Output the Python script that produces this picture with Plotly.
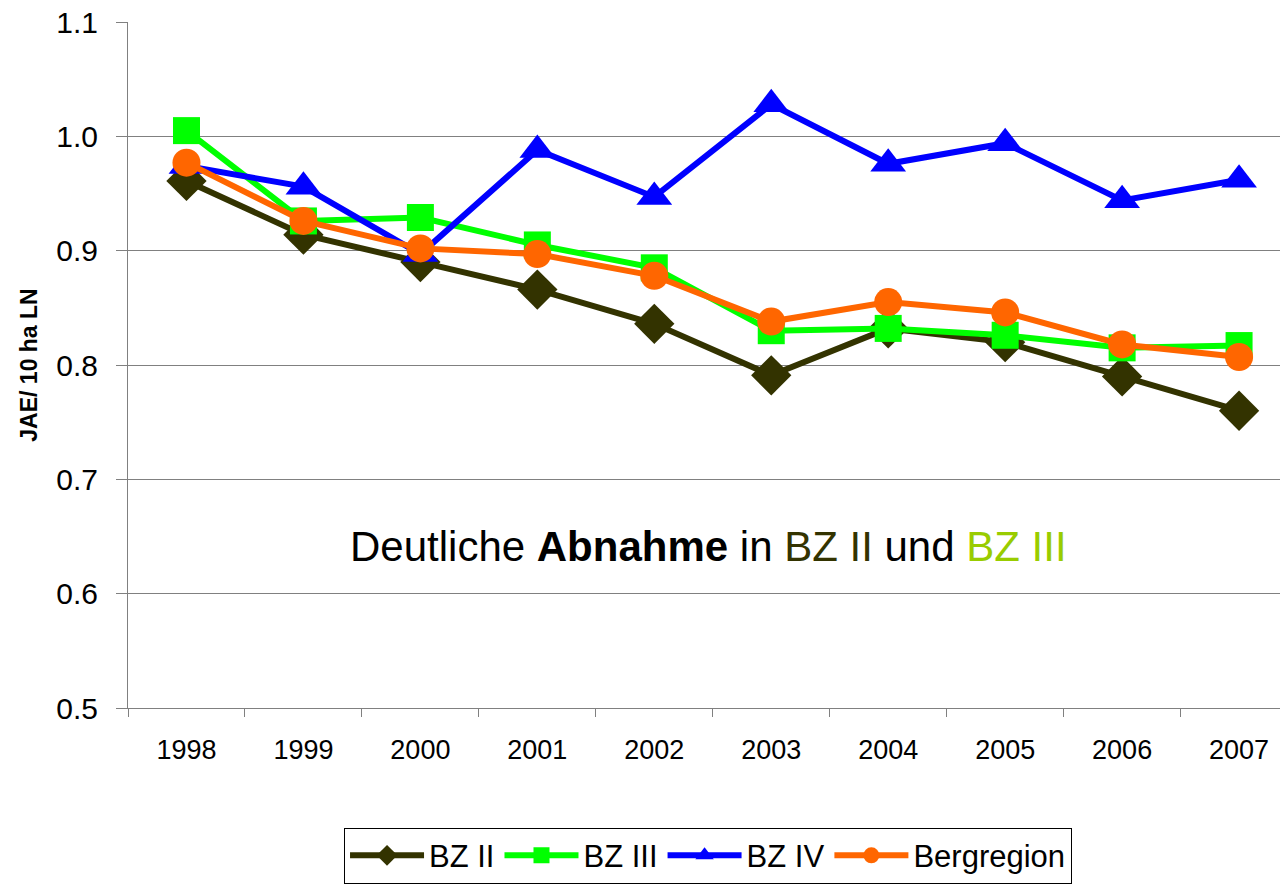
import plotly.graph_objects as go

years = ["1998", "1999", "2000", "2001", "2002", "2003", "2004", "2005", "2006", "2007"]
bz2 = [0.961, 0.914, 0.890, 0.866, 0.836, 0.791, 0.832, 0.820, 0.790, 0.760]
bz3 = [1.005, 0.926, 0.929, 0.905, 0.885, 0.830, 0.832, 0.826, 0.815, 0.817]
bz4 = [0.974, 0.956, 0.897, 0.988, 0.947, 1.028, 0.976, 0.994, 0.944, 0.962]
berg = [0.977, 0.926, 0.902, 0.897, 0.878, 0.838, 0.855, 0.846, 0.818, 0.807]
y_ticks = [0.5, 0.6, 0.7, 0.8, 0.9, 1.0, 1.1]
y_ticktext = ["0.5", "0.6", "0.7", "0.8", "0.9", "1.0", "1.1"]

series_names = ["BZ II", "BZ III", "BZ IV", "Bergregion"]
series_vals = [bz2, bz3, bz4, berg]
colors = ["#333300", "#00FF00", "#0000FF", "#FF6600"]
symbols = ["diamond", "square", "triangle-up", "circle"]
sizes = [31, 27, 31, 28]

FONT = "Liberation Sans, Arial, sans-serif"

fig = go.Figure()
for name, vals, c, s, sz in zip(series_names, series_vals, colors, symbols, sizes):
    fig.add_trace(go.Scatter(
        x=years, y=vals, name=name, mode="lines+markers",
        line=dict(color=c, width=6),
        marker=dict(symbol=s, size=sz, color=c, line=dict(width=0)),
    ))

fig.add_annotation(
    x=0.5035, xref="paper", y=0.641, yref="y",
    text="Deutliche <b>Abnahme</b> in <span style='color:#333300'>BZ II</span> und "
         "<span style='color:#99CC00'>BZ III</span>",
    showarrow=False, font=dict(family=FONT, size=42, color="#000000"),
    xanchor="center", yanchor="middle",
)

fig.update_layout(
    width=1280, height=884,
    margin=dict(l=128, r=0, t=22, b=174),
    paper_bgcolor="white", plot_bgcolor="white",
    font=dict(family=FONT, color="#000000"),
    showlegend=True,
    legend=dict(
        orientation="h", x=0.5035, xanchor="center", y=-0.1744, yanchor="top",
        font=dict(family=FONT, size=31, color="#000000"),
        bordercolor="#000000", borderwidth=1, bgcolor="white",
        itemwidth=74, tracegroupgap=0,
    ),
    xaxis=dict(
        type="category", categoryorder="array", categoryarray=years,
        range=[-0.5, 9.35],
        showline=True, linecolor="#808080", linewidth=1,
        ticks="outside", ticklen=8, tickcolor="#808080", tickson="boundaries",
        showgrid=False, zeroline=False,
        tickfont=dict(family=FONT, size=27, color="#000000"),
        ticklabelstandoff=18,
    ),
    yaxis=dict(
        range=[0.5, 1.1], tickmode="array", tickvals=y_ticks, ticktext=y_ticktext,
        showline=True, linecolor="#808080", linewidth=1,
        ticks="outside", ticklen=11, tickcolor="#808080",
        showgrid=True, gridcolor="#808080", gridwidth=1, zeroline=False,
        tickfont=dict(family=FONT, size=30, color="#000000"),
        ticklabelstandoff=12, ticklabeloverflow="allow",
        automargin="left+right+width",
        title=dict(text="<b>JAE/ 10 ha LN</b>", standoff=12,
                   font=dict(family=FONT, size=23, color="#000000")),
    ),
)

fig.write_html(
    "out.html",
    config={"displayModeBar": False},
    post_script="document.body.style.margin='0';document.body.style.overflow='hidden';",
)
